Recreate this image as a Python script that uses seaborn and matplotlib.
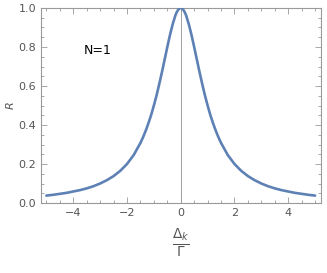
import matplotlib
matplotlib.use("Agg")
import matplotlib.pyplot as plt
import seaborn as sns
import pandas as pd
from matplotlib.ticker import MultipleLocator

# Values (curve is symmetric about 0)
x_right = [0.0, 0.05, 0.1, 0.15, 0.2, 0.3, 0.4, 0.5, 0.6, 0.7, 0.8, 0.9, 1.0,
           1.1, 1.2, 1.3, 1.4, 1.5, 1.75, 2.0, 2.25, 2.5, 2.75,
           3.0, 3.25, 3.5, 3.75, 4.0, 4.25, 4.5, 4.75, 5.0]
r_right = [1.0, 0.9975, 0.990, 0.978, 0.962, 0.917, 0.862, 0.80, 0.735, 0.671,
           0.61, 0.552, 0.50, 0.452, 0.41, 0.372, 0.338, 0.308, 0.246, 0.20,
           0.165, 0.138, 0.117, 0.10, 0.086, 0.075, 0.066, 0.059, 0.052, 0.047,
           0.042, 0.038]
x_vals = [-v for v in x_right[:0:-1]] + x_right
r_vals = r_right[:0:-1] + r_right
x_ticks = [-4, -2, 0, 2, 4]
y_ticks = [0.0, 0.2, 0.4, 0.6, 0.8, 1.0]
label_text = "N=1"

df = pd.DataFrame({"x": x_vals, "R": r_vals})

sns.set_style("ticks")
plt.rcParams['font.family'] = ['DejaVu Sans']

fig = plt.figure(figsize=(3.27, 2.73), dpi=100)
ax = fig.add_axes([0.1254, 0.2564, 0.8563, 0.7143])

ax.axvline(0, color="#a0a0a0", lw=0.7, zorder=1)
sns.lineplot(data=df, x="x", y="R", ax=ax, color="#5E81B5", lw=1.9, zorder=3)

ax.set_xlim(-5.2, 5.22)
ax.set_ylim(0, 1.0)
ax.set_xticks(x_ticks)
ax.set_yticks(y_ticks)
ax.set_xticklabels(["\u22124", "\u22122", "0", "2", "4"])
ax.set_yticklabels([f"{v:.1f}" for v in y_ticks])
ax.xaxis.set_minor_locator(MultipleLocator(0.5))
ax.yaxis.set_minor_locator(MultipleLocator(0.05))
ax.tick_params(which="both", direction="in", top=True, right=True,
               colors="#9a9a9a", labelcolor="#555555", labelsize=8, width=0.6)
ax.tick_params(which="major", length=4)
ax.tick_params(which="minor", length=2)
for s in ax.spines.values():
    s.set_color("#9a9a9a")
    s.set_linewidth(0.8)

ax.set_xlabel(r"$\frac{\mathrm{\Delta}_k}{\mathrm{\Gamma}}$", fontsize=14,
              color="#555555", labelpad=6)
ax.set_ylabel("R", fontsize=8, color="#555555", style="italic", labelpad=2)
ax.text(-3.6, 0.78, label_text, fontsize=9, color="black", ha="left", va="center")

fig.savefig("out.png", dpi=100)
